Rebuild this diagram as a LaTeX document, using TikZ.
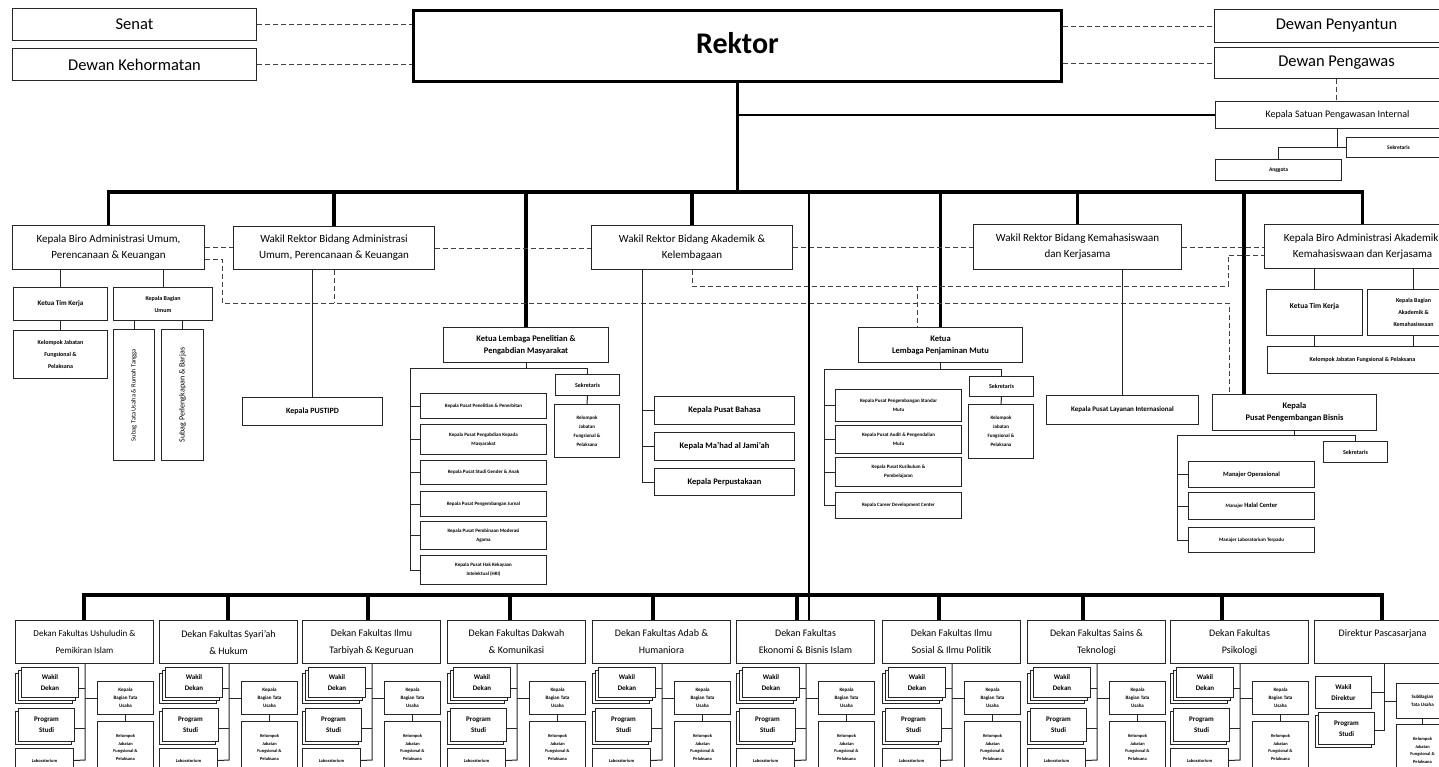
\documentclass[tikz,border=0pt]{standalone}
\usepackage{fontspec}
\setmainfont{Carlito}
\usepackage{tikz}
\newcommand{\fsz}[2]{\fontsize{#1}{#2}\selectfont}
\tikzset{unit/.style={draw=black!85, fill=white, line width=1pt, anchor=north west, align=center, inner sep=1pt},
    wh/.style 2 args={minimum width=#1pt, minimum height=#2pt},
    link/.style={draw=black!85, line width=1pt},
    trunk/.style={draw=black, line width=3.5pt},
    relation/.style={draw=black!75, line width=1pt, dash pattern=on 5pt off 3pt}}

\begin{document}
\begin{tikzpicture}[x=1pt, y=-1pt]
            \useasboundingbox (0,0) rectangle (1439,766);
            \node[unit, wh={244}{32}, font={\fsz{16.5}{20}}] (senat) at (12,8) {Senat};
            \node[unit, wh={244}{32}, font={\fsz{16.5}{20}}] (kehormatan) at (12,48) {Dewan Kehormatan};
            \node[unit, wh={648}{71}, line width=3pt, draw=black, font={\fsz{30}{32}\bfseries}] (rektor) at (412,9) {\raisebox{6pt}{Rektor}};
            \node[unit, wh={244}{33}, font={\fsz{16.5}{20}}] (penyantun) at (1214,9) {Dewan Penyantun};
            \node[unit, wh={244}{31}, font={\fsz{16.5}{20}}] (pengawas) at (1214,47) {Dewan Pengawas};
            \node[unit, wh={244}{27}, font={\fsz{10}{12}}] (spi) at (1215,101) {Kepala Satuan Pengawasan Internal};
            \node[unit, wh={104}{20}, font={\fsz{5.5}{7}\bfseries}] (spisek) at (1346,137) {Sekretaris};
            \node[unit, wh={126}{21}, font={\fsz{5.5}{7}\bfseries}] (anggota) at (1215,159) {Anggota};
            \draw[relation] (senat.east) -- (senat.east -| rektor.west);
            \draw[relation] (kehormatan.east) -- (kehormatan.east -| rektor.west);
            \draw[relation] (rektor.east |- penyantun.west) -- (penyantun.west);
            \draw[relation] (rektor.east |- pengawas.west) -- (pengawas.west);
            \draw[relation] (pengawas.south) -- (pengawas.south |- spi.north);
            \draw[link] (spi.south) -- (spi.south |- spisek.west);
            \draw[link] (anggota.north) |- (spisek.west);

            \node[unit, wh={192}{44}, font={\fsz{11}{16}}] (biroU) at (12,225) {Kepala Biro Administrasi Umum,\\Perencanaan \& Keuangan};
            \node[unit, wh={201}{43}, font={\fsz{11}{16}}] (wr2) at (233,226) {Wakil Rektor Bidang Administrasi\\Umum, Perencanaan \& Keuangan};
            \node[unit, wh={201}{44}, font={\fsz{11}{16}}] (wr1) at (591,225) {Wakil Rektor Bidang Akademik \&\\Kelembagaan};
            \node[unit, wh={208}{45}, font={\fsz{11}{16}}] (wr3) at (973,224) {Wakil Rektor Bidang Kemahasiswaan\\dan Kerjasama};
            \node[unit, wh={196}{44}, font={\fsz{11}{16}}] (biroA) at (1264,224) {Kepala Biro Administrasi Akademik,\\Kemahasiswaan dan Kerjasama};
            \node[unit, wh={165}{35}, font={\fsz{8.5}{12}\bfseries}] (lppm) at (443,327) {Ketua Lembaga Penelitian \&\\Pengabdian Masyarakat};
            \node[unit, wh={164}{35}, font={\fsz{8.5}{12}\bfseries}] (lpm) at (858,327) {Ketua\\Lembaga Penjaminan Mutu};
            \node[unit, wh={164}{36}, font={\fsz{8.5}{12}\bfseries}] (ppb) at (1212,394) {Kepala\\Pusat Pengembangan Bisnis};

            \coordinate (bus) at (0,192);
            \coordinate (ppbtop) at (1244,394);
            \coordinate (fkt) at (809,192);
            \draw[trunk] (rektor.south) -- (rektor.south |- bus);
            \draw[line width=2.5pt] (rektor.south |- spi.west) -- (spi.west);
            \draw[trunk, line cap=rect] (biroU.north |- bus) -- (biroA.north |- bus);
            \foreach \n in {biroU, wr2, lppm, wr1, lpm, wr3, biroA}
                \draw[trunk] (\n.north) -- (\n.north |- bus);
            \draw[trunk] (ppbtop) -- (ppbtop |- bus);

            \draw[relation] (biroU.east) -- (biroU.east -| wr2.west);
            \draw[relation] (wr2.east) -- (wr2.east -| wr1.west);
            \draw[relation] (wr1.east) -- (wr1.east -| wr3.west);
            \draw[relation] (wr3.east) -- (wr3.east -| biroA.west);
            \coordinate (b1) at (222,259);
            \coordinate (b2) at (1229,303);
            \draw[relation] (biroU.east |- b1) -- (b1) |- (b2) -- (b2 |- ppb.north);
            \draw[relation] (wr2.south) -- (wr2.south |- b2);
            \coordinate (c1) at (1228,286);
            \coordinate (c2) at (0,255);
            \coordinate (c3) at (917,286);
            \draw[relation] (wr1.south) |- (c1) |- (biroA.west |- c2);
            \draw[relation] (c3) -- (c3 |- lpm.north);

            \node[unit, wh={94}{33}, font={\fsz{7}{9}\bfseries}] (ktk1) at (13,287) {Ketua Tim Kerja};
            \node[unit, wh={99}{33}, font={\fsz{6}{12}\bfseries}] (kbu) at (113,287) {Kepala Bagian\\Umum};
            \node[unit, wh={94}{48}, font={\fsz{6}{12}\bfseries}] (kjf1) at (13,330) {Kelompok Jabatan\\Fungsional \&\\Pelaksana};
            \node[unit, rotate=90, wh={131}{41}, font={\fsz{6.5}{8}}] (sub1) at (113,461) {Subag Tata Usaha \& Rumah Tangga};
            \node[unit, rotate=90, wh={131}{42}, font={\fsz{8}{10}}] (sub2) at (161,461) {Subag Perlengkapan \& Barjas};
            \draw[link] (ktk1.north) -- (ktk1.north |- biroU.south);
            \draw[link] (kbu.north) -- (kbu.north |- biroU.south);
            \draw[link] (ktk1.south) -- (kjf1.north);
            \draw[link] (sub1.east) -- (sub1.east |- kbu.south);
            \draw[link] (sub2.east) -- (sub2.east |- kbu.south);

            \node[unit, wh={140}{28}, font={\fsz{8}{10}\bfseries}] (pustipd) at (242,397) {Kepala PUSTIPD};
            \draw[link] (pustipd.north) -- (pustipd.north |- wr2.south);

            \node[unit, wh={64}{21}, font={\fsz{6}{8}\bfseries}] (lppmsek) at (555,374) {Sekretaris};
            \node[unit, wh={65}{53}, font={\fsz{5}{9}\bfseries}] (lppmkjf) at (554,404) {Kelompok\\Jabatan\\Fungsional \&\\Pelaksana};
            \coordinate (lpbar) at (410,368);
            \draw[link] (lppm.south) -- (lppm.south |- lpbar);
            \draw[link] (lpbar) -| (lppmsek.north);
            \draw[link] (lppmsek.south) -- (lppmkjf.north);
            \foreach \y/\hh/\txt [count=\i] in {393/25/{Kepala Pusat Penelitian \& Penerbitan},
                424/30/{Kepala Pusat Pengabdian Kepada\\Masyarakat},
                460/24/{Kepala Pusat Studi Gender \& Anak},
                491/25/{Kepala Pusat Pengembangan Jurnal},
                521/28/{Kepala Pusat Pembinaan Moderasi\\Agama},
                555/29/{Kepala Pusat Hak Kekayaan\\Intelektual (HKI)}}
            {
                \node[unit, wh={126}{\hh}, font={\fsz{5}{9}\bfseries}] (lp\i) at (420,\y) {\txt};
                \draw[link] (lp\i.west) -- (lp\i.west -| lpbar);
            }
            \draw[link] (lpbar) -- (lpbar |- lp6.west);

            \coordinate (waspine) at (642,300);
            \foreach \y/\hh/\txt [count=\i] in {396/28/{Kepala Pusat Bahasa},
                432/28/{Kepala Ma’had al Jami’ah},
                468/27/{Kepala Perpustakaan}}
            {
                \node[unit, wh={140}{\hh}, font={\fsz{8.5}{10}\bfseries}] (wa\i) at (654,\y) {\txt};
                \draw[link] (wa\i.west) -- (wa\i.west -| waspine);
            }
            \draw[link] (wr1.south -| waspine) -- (waspine |- wa3.west);

            \node[unit, wh={64}{20}, font={\fsz{6}{8}\bfseries}] (lpmsek) at (969,376) {Sekretaris};
            \node[unit, wh={65}{54}, font={\fsz{5}{9}\bfseries}] (lpmkjf) at (968,404) {Kelompok\\Jabatan\\Fungsional \&\\Pelaksana};
            \coordinate (lmbar) at (824,369);
            \draw[link] (lpm.south) -- (lpm.south |- lmbar);
            \draw[link] (lmbar) -| (lpmsek.north);
            \draw[link] (lpmsek.south) -- (lpmkjf.north);
            \foreach \y/\hh/\txt [count=\i] in {389/32/{Kepala Pusat Pengembangan Standar\\Mutu},
                425/28/{Kepala Pusat Audit \& Pengendalian\\Mutu},
                457/29/{Kepala Pusat Kurikulum \&\\Pembelajaran},
                492/26/{Kepala Career Development Center}}
            {
                \node[unit, wh={126}{\hh}, font={\fsz{5}{9}\bfseries}] (lm\i) at (835,\y) {\txt};
                \draw[link] (lm\i.west) -- (lm\i.west -| lmbar);
            }
            \draw[link] (lmbar) -- (lmbar |- lm4.west);

            \node[unit, wh={152}{29}, font={\fsz{7}{9}\bfseries}] (kpli) at (1046,395) {Kepala Pusat Layanan Internasional};
            \draw[link] (kpli.north) -- (kpli.north |- wr3.south);

            \node[unit, wh={96}{46}, font={\fsz{7.5}{14}\bfseries}] (ktk2) at (1266,289) {Ketua Tim Kerja\\\mbox{}};
            \node[unit, wh={92}{46}, font={\fsz{6}{12}\bfseries}] (kba) at (1367,289) {Kepala Bagian\\Akademik \&\\Kemahasiswaan};
            \node[unit, wh={190}{27}, font={\fsz{6}{8}\bfseries}] (kjf2) at (1267,346) {Kelompok Jabatan Fungsional \& Pelaksana};
            \draw[link] (ktk2.north) -- (ktk2.north |- biroA.south);
            \draw[link] (kba.north) -- (kba.north |- biroA.south);
            \draw[link] (ktk2.south) -- (ktk2.south |- kjf2.north);
            \draw[link] (kba.south) -- (kba.south |- kjf2.north);

            \node[unit, wh={64}{21}, font={\fsz{6}{8}\bfseries}] (ppbsek) at (1323,441) {Sekretaris};
            \coordinate (pbbar) at (1177,435);
            \draw[link] (ppb.south) -- (ppb.south |- pbbar);
            \draw[link] (pbbar) -| (ppbsek.north);
            \foreach \y/\hh/\txt [count=\i] in {461/26/{\fsz{6.5}{8}\bfseries Manajer Operasional},
                492/27/{Manajer {\fsz{6.5}{8}\bfseries Halal Center}},
                527/25/{Manajer Laboratorium Terpadu}}
            {
                \node[unit, wh={126}{\hh}, font={\fsz{5}{8}\bfseries}] (mj\i) at (1188,\y) {\txt};
                \draw[link] (mj\i.west) -- (mj\i.west -| pbbar);
            }
            \draw[link] (pbbar) -- (pbbar |- mj3.west);

            \foreach \lx/\dx/\fz/\txt [count=\i] in {15/84/9/{Dekan Fakultas Ushuludin \&\\Pemikiran Islam},
                159/228/10/{Dekan Fakultas Syari’ah\\\& Hukum},
                302/368/10/{Dekan Fakultas Ilmu\\Tarbiyah \& Keguruan},
                447/510/10/{Dekan Fakultas Dakwah\\\& Komunikasi},
                592/653/10/{Dekan Fakultas Adab \&\\Humaniora},
                736/797/10/{Dekan Fakultas\\Ekonomi \& Bisnis Islam},
                882/939/10/{Dekan Fakultas Ilmu\\Sosial \& Ilmu Politik},
                1027/1083/10/{Dekan Fakultas Sains \&\\Teknologi},
                1170/1222/10/{Dekan Fakultas\\Psikologi}}
            {
                \pgfmathsetmacro\cx{\lx+70}
                \pgfmathsetmacro\kx{\lx+82}
                \node[unit, wh={138}{43}, font={\fsz{\fz}{17}}] (fak\i) at (\lx,620) {\txt};
                \coordinate (dk\i) at (\dx,595);
                \draw[trunk] (dk\i) -- (dk\i |- fak\i.north);
                \node[unit, wh={57}{30}] (wdb\i) at (\lx,673) {};
                \node[unit, wh={57}{30}] (wda\i) at ({\lx+3},670) {};
                \node[unit, wh={57}{30}, font={\fsz{7}{11}\bfseries}] (wd\i) at ({\lx+6},667) {Wakil\\Dekan};
                \node[unit, wh={56}{33}] (psb\i) at (\lx,711) {};
                \node[unit, wh={56}{33}, font={\fsz{7}{11}\bfseries}] (ps\i) at ({\lx+3},708) {Program\\Studi};
                \node[unit, wh={58}{24}, font={\fsz{4.5}{6}\bfseries}] (lab\i) at (\lx,748) {Laboratorium};
                \node[unit, wh={56}{33}, font={\fsz{5}{8}\bfseries}] (kbtu\i) at (\kx,681) {Kepala\\Bagian Tata\\Usaha};
                \node[unit, wh={56}{52}, font={\fsz{4.5}{7.5}\bfseries}] (kjf\i) at (\kx,721) {Kelompok\\Jabatan\\Fungsional \&\\Pelaksana};
                \coordinate (sp\i) at (\cx,760);
                \draw[link] (fak\i.south -| sp\i) -- (sp\i) -- (lab\i.east);
                \draw[link] (wd\i.east |- wdb\i.east) -- (sp\i |- wdb\i.east);
                \draw[link] (ps\i.east |- psb\i.east) -- (sp\i |- psb\i.east);
                \draw[link] (kbtu\i.west) -- (kbtu\i.west -| sp\i);
                \draw[link] (kbtu\i.south) -- (kjf\i.north);
            }

            \node[unit, wh={136}{43}, font={\fsz{10}{17}}] (fak10) at (1314,620) {Direktur Pascasarjana\\\mbox{}};
            \coordinate (dk10) at (1382,595);
            \draw[trunk] (dk10) -- (dk10 |- fak10.north);
            \node[unit, wh={56}{32}, font={\fsz{7}{11}\bfseries}] (wdir) at (1315,676) {Wakil\\Direktur};
            \node[unit, wh={56}{32}] (psb10) at (1315,715) {};
            \node[unit, wh={56}{32}, font={\fsz{7}{11}\bfseries}] (ps10) at (1318,712) {Program\\Studi};
            \node[unit, wh={52}{35}, font={\fsz{5}{8}\bfseries}] (sbtu) at (1396,683) {SubBagian\\Tata Usaha};
            \node[unit, wh={52}{52}, font={\fsz{4.5}{7.5}\bfseries}] (kjf10) at (1396,724) {Kelompok\\Jabatan\\Fungsional \&\\Pelaksana};
            \coordinate (sp10) at (1384,730);
            \draw[link] (fak10.south -| sp10) -- (sp10) -- (sp10 -| ps10.east);
            \draw[link] (wdir.east) -- (wdir.east -| sp10);
            \draw[link] (sbtu.west) -- (sbtu.west -| sp10);
            \draw[link] (sbtu.south) -- (kjf10.north);

            \draw[trunk, line cap=rect] (dk1) -- (dk10);
            \draw[line width=2.5pt] (fkt) -- (fkt |- fak6.north);
        \end{tikzpicture}
\end{document}
